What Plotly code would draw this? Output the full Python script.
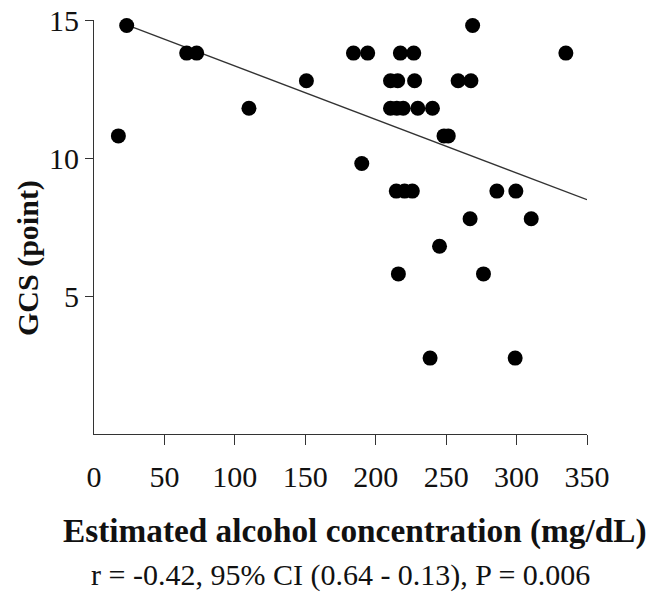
import plotly.graph_objects as go

# Scatter data (estimated alcohol concentration, GCS)
alcohol = [23.2, 268.8,
           65.8, 72.9, 184.2, 194.3, 217.5, 227.0, 335.0,
           150.8, 210.5, 215.6, 227.6, 258.5, 267.6,
           110.0, 210.5, 215.0, 219.5, 229.9, 240.3,
           17.3, 248.5, 251.5,
           190.1,
           214.6, 220.5, 226.0, 286.0, 299.5,
           267.0, 310.4,
           245.3,
           216.1, 276.5,
           238.6, 299.0]
gcs = [14.8, 14.8,
       13.8, 13.8, 13.8, 13.8, 13.8, 13.8, 13.8,
       12.8, 12.8, 12.8, 12.8, 12.8, 12.8,
       11.8, 11.8, 11.8, 11.8, 11.8, 11.8,
       10.8, 10.8, 10.8,
       9.8,
       8.8, 8.8, 8.8, 8.8, 8.8,
       7.8, 7.8,
       6.8,
       5.8, 5.8,
       2.75, 2.75]

# Regression line end points
fit_x = [23.2, 350]
fit_y = [14.82, 8.49]

x_ticks = [0, 50, 100, 150, 200, 250, 300, 350]
y_ticks = [5, 10, 15]

x_title = "<b>Estimated alcohol concentration (mg/dL)</b>"
y_title = "<b>GCS (point)</b>"
stats_text = "r = -0.42, 95% CI (0.64 - 0.13), P = 0.006"

FONT = "Liberation Serif, Times New Roman, serif"

fig = go.Figure()
fig.add_trace(go.Scatter(x=fit_x, y=fit_y, mode="lines",
                         line=dict(color="#333333", width=1.3),
                         hoverinfo="skip"))
fig.add_trace(go.Scatter(x=alcohol, y=gcs, mode="markers",
                         marker=dict(color="black", size=15),
                         cliponaxis=False))

fig.update_layout(
    width=652, height=592,
    margin=dict(l=94, r=65, t=20, b=158),
    plot_bgcolor="white", paper_bgcolor="white",
    showlegend=False,
    font=dict(family=FONT, size=30, color="#111111"),
)

fig.update_xaxes(
    range=[0, 350], tickmode="array", tickvals=x_ticks,
    ticktext=[str(v) for v in x_ticks],
    ticks="", showline=True, linecolor="#333333", linewidth=1.2,
    showgrid=False, zeroline=False, automargin=False,
    ticklabelstandoff=16,
    minor=dict(tickmode="array", tickvals=x_ticks[1:], ticks="outside",
               ticklen=10, tickcolor="#333333", tickwidth=1.2),
)
fig.update_yaxes(
    range=[0, 15], tickmode="array", tickvals=y_ticks,
    ticktext=[str(v) for v in y_ticks],
    ticks="outside", ticklen=8, tickcolor="#333333", tickwidth=1.2,
    showline=True, linecolor="#333333", linewidth=1.2,
    showgrid=False, zeroline=False, automargin=False,
    ticklabelstandoff=0,
)

fig.add_annotation(text=y_title, xref="paper", yref="paper",
                   x=(28 - 94) / 493, y=(434 - 258) / 414,
                   xanchor="center", yanchor="middle", textangle=-90,
                   showarrow=False, font=dict(family=FONT, size=30, color="#111111"))
fig.add_annotation(text=x_title, xref="paper", yref="paper",
                   x=(355 - 94) / 493, y=(434 - 531) / 414,
                   xanchor="center", yanchor="middle",
                   showarrow=False, font=dict(family=FONT, size=33.3, color="#111111"))
fig.add_annotation(text=stats_text, xref="paper", yref="paper",
                   x=(340 - 94) / 493, y=(434 - 575) / 414,
                   xanchor="center", yanchor="middle",
                   showarrow=False, font=dict(family=FONT, size=30, color="#111111"))

fig.write_html("out.html",
               config={"displayModeBar": False},
               post_script="document.body.style.margin='0';document.body.style.overflow='hidden';")
